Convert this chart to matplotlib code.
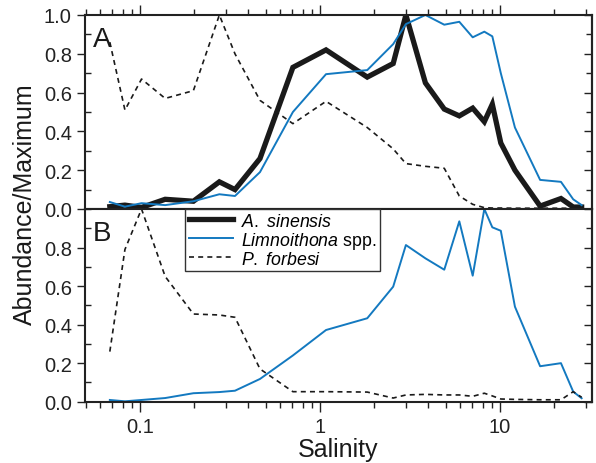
import numpy as np
import matplotlib
matplotlib.use('Agg')
import matplotlib.pyplot as plt
from matplotlib.lines import Line2D
from matplotlib.ticker import LogLocator, MultipleLocator, FixedLocator, FixedFormatter

plt.rcParams['font.family'] = ['Liberation Sans', 'DejaVu Sans']
plt.rcParams['mathtext.fontset'] = 'custom'
plt.rcParams['mathtext.it'] = 'Liberation Sans:italic'
plt.rcParams['mathtext.rm'] = 'Liberation Sans'

# salinity bins (shared by both panels)
salinity = [0.068, 0.0825, 0.102, 0.138, 0.198, 0.276, 0.337, 0.464, 0.707, 1.08,
            1.83, 2.55, 3.0, 3.85, 4.9, 5.94, 7.05, 8.18, 9.06, 10.1,
            12.1, 16.7, 21.8, 25.5, 28.4]

# panel A
a_sinensis_A = [0.012, 0.02, 0.008, 0.05, 0.04, 0.14, 0.10, 0.26, 0.73, 0.82,
                0.68, 0.75, 1.0, 0.65, 0.515, 0.48, 0.52, 0.45, 0.54, 0.34,
                0.20, 0.015, 0.054, 0.01, 0.01]
limno_A = [0.036, 0.012, 0.03, 0.02, 0.04, 0.076, 0.067, 0.19, 0.50, 0.695,
           0.716, 0.85, 0.953, 1.0, 0.95, 0.965, 0.885, 0.914, 0.89, 0.70,
           0.42, 0.15, 0.14, 0.05, 0.02]
forbesi_A = [0.86, 0.51, 0.67, 0.57, 0.61, 1.0, 0.80, 0.56, 0.44, 0.555,
             0.42, 0.31, 0.234, 0.22, 0.21, 0.067, 0.024, 0.007, 0.005, 0.005,
             0.004, 0.004, 0.004, 0.004, 0.004]

# panel B
limno_B = [0.009, 0.002, 0.009, 0.019, 0.044, 0.05, 0.057, 0.118, 0.24, 0.372,
           0.433, 0.597, 0.813, 0.744, 0.685, 0.936, 0.654, 1.0, 0.905, 0.887,
           0.493, 0.184, 0.2, 0.052, 0.018]
forbesi_B = [0.26, 0.79, 1.0, 0.65, 0.455, 0.45, 0.438, 0.17, 0.052, 0.052,
             0.05, 0.019, 0.035, 0.038, 0.035, 0.035, 0.028, 0.044, 0.03, 0.014,
             0.012, 0.01, 0.01, 0.052, 0.023]

blue = '#1379c0'
ink = '#1a1a1a'
dash = (0, (3, 2.5))

W, H = 596, 464
fig = plt.figure(figsize=(W / 100, H / 100), dpi=100)
left, right = 85 / W, 591.7 / W
top, mid, bot = 1 - 16 / H, 1 - 210 / H, 1 - 402.7 / H
axA = fig.add_axes([left, mid, right - left, top - mid])
axB = fig.add_axes([left, bot, right - left, mid - bot], sharex=axA)

axA.plot(salinity, a_sinensis_A, color=ink, lw=3.8, solid_joinstyle='miter')
axA.plot(salinity, limno_A, color=blue, lw=1.4)
axA.plot(salinity, forbesi_A, color=ink, lw=1.2, ls=dash)

axB.plot(salinity, limno_B, color=blue, lw=1.4)
axB.plot(salinity, forbesi_B, color=ink, lw=1.2, ls=dash)

axA.set_xscale('log')
axA.set_xlim(0.0495, 32.3)

for ax in (axA, axB):
    ax.set_ylim(0, 1.0)
    for s in ax.spines.values():
        s.set_linewidth(1.5)
        s.set_color('#222222')
    ax.yaxis.set_major_locator(MultipleLocator(0.2))
    ax.yaxis.set_minor_locator(MultipleLocator(0.1))
    ax.yaxis.set_major_formatter(plt.FormatStrFormatter('%.1f'))
    # left: major out, minor in
    ax.tick_params(axis='y', which='major', direction='out', length=6, width=1,
                   labelsize=14.5, left=True, right=False, colors='#222222')
    ax.tick_params(axis='y', which='minor', direction='in', length=4, width=1,
                   left=True, right=False, colors='#222222')
    # right side ticks point inward
    sec = ax.secondary_yaxis('right')
    sec.yaxis.set_major_locator(MultipleLocator(0.2))
    sec.yaxis.set_minor_locator(MultipleLocator(0.1))
    sec.tick_params(axis='y', which='major', direction='in', length=6, width=1,
                    labelright=False, colors='#222222')
    sec.tick_params(axis='y', which='minor', direction='in', length=4, width=1,
                    colors='#222222')
    sec.spines['right'].set_linewidth(1.5)
    sec.spines['right'].set_color('#222222')
    ax.xaxis.set_minor_locator(LogLocator(base=10, subs=np.arange(2, 10)))

axB.yaxis.set_major_locator(FixedLocator([0, 0.2, 0.4, 0.6, 0.8]))

axA.tick_params(axis='x', which='both', bottom=False, labelbottom=False,
                top=True, direction='out', width=1, colors='#222222')
axA.tick_params(axis='x', which='major', length=7)
axA.tick_params(axis='x', which='minor', length=4)
axB.tick_params(axis='x', which='both', top=False, bottom=True, direction='out',
                width=1, colors='#222222')
axB.tick_params(axis='x', which='major', length=7, labelsize=14.5, pad=4)
axB.tick_params(axis='x', which='minor', length=4)
axB.xaxis.set_major_locator(FixedLocator([0.1, 1, 10]))
axB.xaxis.set_major_formatter(FixedFormatter(['0.1', '1', '10']))

axA.text(0.016, 0.945, 'A', transform=axA.transAxes, fontsize=20, va='top', color=ink)
axB.text(0.016, 0.945, 'B', transform=axB.transAxes, fontsize=20, va='top', color=ink)

axB.set_xlabel('Salinity', fontsize=18, labelpad=1, color=ink)
fig.text(25 / W, 1 - 204 / H, 'Abundance/Maximum', rotation=90, fontsize=18,
         ha='center', va='center', color=ink)

handles = [Line2D([], [], color=ink, lw=3.8),
           Line2D([], [], color=blue, lw=1.4),
           Line2D([], [], color=ink, lw=1.2, ls=dash)]
labels = [r'$\mathit{A.\ sinensis}$', r'$\mathit{Limnoithona}$ spp.',
          r'$\mathit{P.\ forbesi}$']
leg = fig.legend(handles, labels, loc='upper left',
                 bbox_to_anchor=(185 / W, 1 - 210 / H), fontsize=12.8,
                 frameon=True, fancybox=False, borderpad=0.2, labelspacing=0.0,
                 handlelength=2.5, handletextpad=0.45, borderaxespad=0)
leg.get_frame().set_edgecolor('#333333')
leg.get_frame().set_linewidth(1.0)
leg.get_frame().set_alpha(1)

fig.savefig('out.png', dpi=100)
